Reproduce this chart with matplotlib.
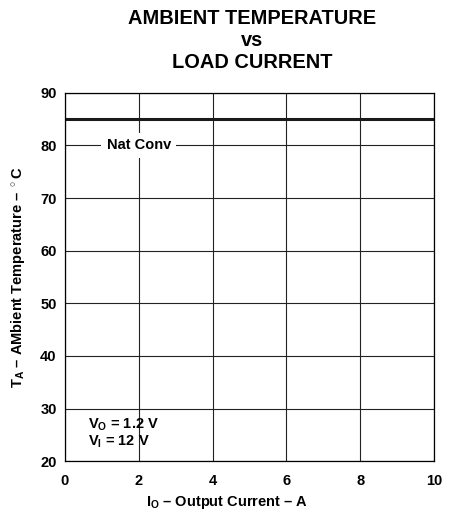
import matplotlib.pyplot as plt

plt.rcParams['font.family'] = ['Liberation Sans', 'DejaVu Sans']
plt.rcParams['font.weight'] = 'bold'
plt.rcParams['mathtext.fontset'] = 'custom'
plt.rcParams['mathtext.bf'] = 'Liberation Sans:bold'
plt.rcParams['mathtext.rm'] = 'Liberation Sans:bold'
plt.rcParams['mathtext.it'] = 'Liberation Sans:bold'

current = [0, 10]
temp_nat_conv = [85, 85]
x_ticks = [0, 2, 4, 6, 8, 10]
y_ticks = [20, 30, 40, 50, 60, 70, 80, 90]

fig = plt.figure(figsize=(4.54, 5.13), dpi=100)
ax = fig.add_axes([0.143, 0.101, 0.813, 0.718])

ax.plot(current, temp_nat_conv, color='#1a1a1a', linewidth=2.2, solid_capstyle='butt')

ax.set_xlim(0, 10)
ax.set_ylim(20, 90)
ax.set_xticks(x_ticks)
ax.set_yticks(y_ticks)
ax.tick_params(length=0, labelsize=10.5)
ax.tick_params(axis='y', pad=6)
ax.tick_params(axis='x', pad=9)
for lbl in ax.get_xticklabels() + ax.get_yticklabels():
    lbl.set_fontweight('bold')
ax.grid(True, color='#222222', linewidth=0.8)
for s in ax.spines.values():
    s.set_linewidth(0.9)

ax.text(2, 80, 'Nat Conv', ha='center', va='center', fontsize=10.5, fontweight='bold',
        bbox=dict(facecolor='white', edgecolor='none', pad=4))
ax.text(0.62, 25.3, '$\\mathbf{V_O}$ = 1.2 V\n$\\mathbf{V_I}$ = 12 V', ha='left', va='center',
        fontsize=10.5, fontweight='bold', linespacing=1.05)

ax.set_xlabel('$\\mathbf{I_O}$ \u2013 Output Current \u2013 A', fontsize=10.5, fontweight='bold')
ax.xaxis.set_label_coords(0.44, -0.09)
ax.set_ylabel('$\\mathbf{T_A}$ \u2013 AMbient Temperature \u2013 $^\\circ$C', fontsize=10.5,
              fontweight='bold')
ax.yaxis.set_label_coords(-0.103, 0.5)
fig.suptitle('AMBIENT TEMPERATURE\nvs\nLOAD CURRENT', x=0.556, y=0.982, fontsize=14.4,
             fontweight='bold', linespacing=1.2)

fig.savefig('out.png', dpi=100)
